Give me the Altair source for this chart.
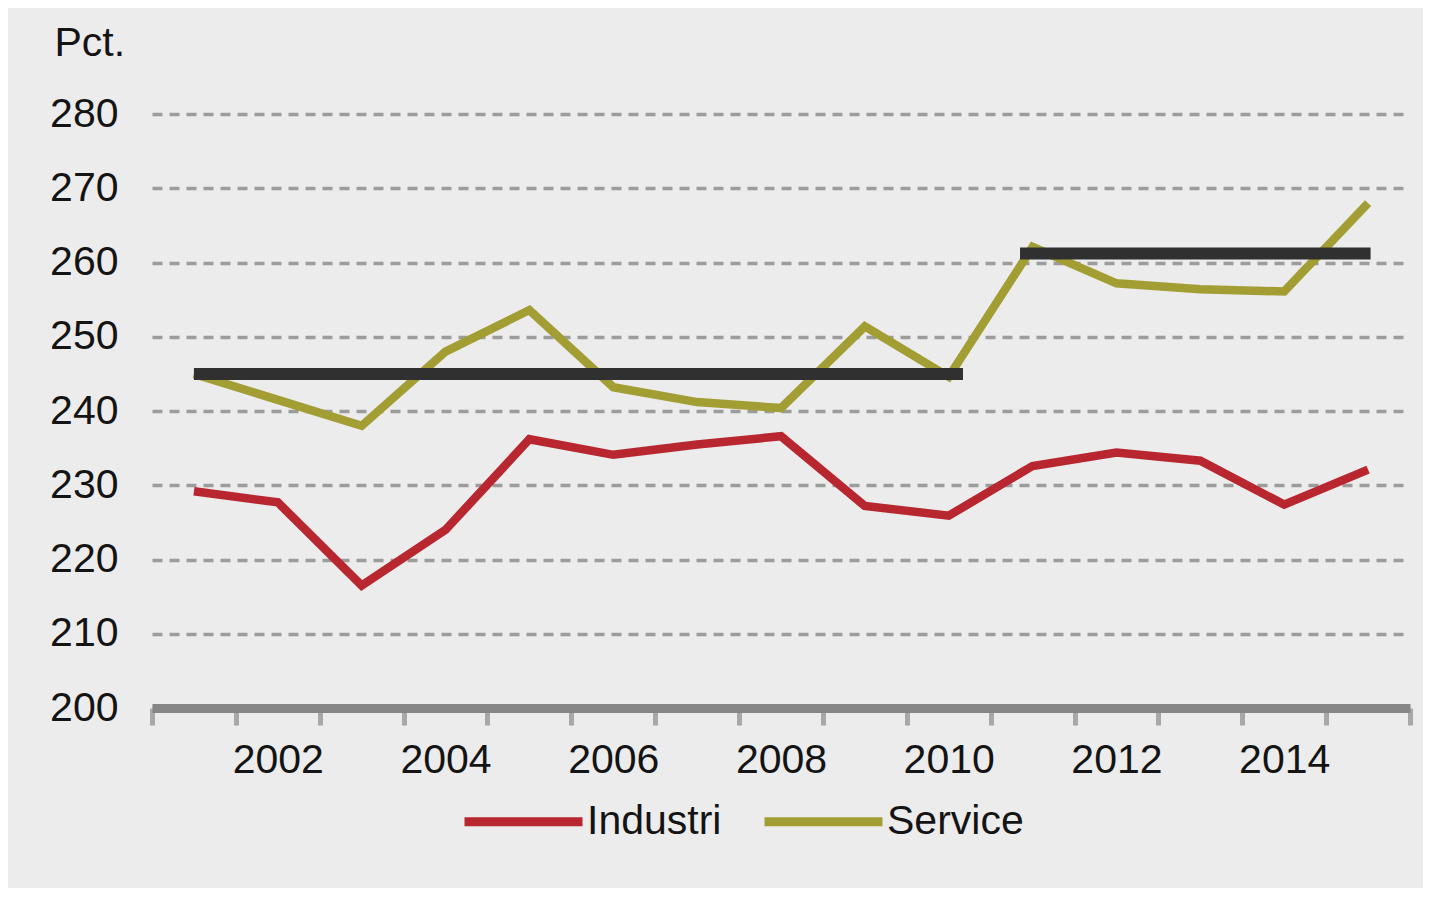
import altair as alt
import pandas as pd

# ---- data ----
years = list(range(2001, 2016))
industri = [229.2, 227.7, 216.5, 224.0, 236.2, 234.1, 235.5, 236.6, 227.2, 225.9,
            232.6, 234.4, 233.3, 227.4, 232.1]
service = [245.0, 241.5, 238.0, 248.0, 253.6, 243.2, 241.2, 240.4, 251.4, 244.6,
           262.1, 257.2, 256.4, 256.1, 268.0]
series_names = ["Industri", "Service"]
series_colors = ["#b8262f", "#a29e34"]

# period averages (black bars)
avg_start = [2001.0, 2010.85]
avg_end = [2010.17, 2015.03]
avg_value = [245.0, 261.2]

y_ticks = [200, 210, 220, 230, 240, 250, 260, 270, 280]
x_boundaries = [2000.5 + i for i in range(16)]
x_labels = [2002, 2004, 2006, 2008, 2010, 2012, 2014]

FONT = "Liberation Sans"
TXT = "#141414"

rows = []
for name, vals in zip(series_names, [industri, service]):
    for yr, v in zip(years, vals):
        rows.append({"year": yr, "series": name, "value": v})
df = pd.DataFrame(rows)
avg_df = pd.DataFrame({"start": avg_start, "end": avg_end, "value": avg_value})

x_scale = alt.Scale(domain=[2000.5, 2015.5], nice=False, zero=False)
y_scale = alt.Scale(domain=[200, 280], nice=False, zero=False)

x_axis = alt.Axis(
    values=x_boundaries + x_labels,
    labelExpr="datum.value % 2 == 0 ? '' + datum.value : ''",
    tickOpacity={"condition": {"test": "datum.value % 1 != 0", "value": 1}, "value": 0},
    tickSize=17, tickWidth=5, tickColor="#a8a8a8",
    domainColor="#868686", domainWidth=9,
    labelFontSize=41, labelFont=FONT, labelColor=TXT, labelPadding=15,
    labelOverlap=False, labelFlush=False, grid=False, title=None,
)

y_axis = alt.Axis(
    values=y_ticks, ticks=False, tickSize=0, domain=False,
    grid=True, gridColor="#9c9c9c", gridDash=[10, 7], gridWidth=3.5,
    labelFontSize=41, labelFont=FONT, labelColor=TXT, labelPadding=34,
    title="Pct.", titleAngle=0, titleX=-98, titleY=-59, titleAlign="left",
    titleBaseline="alphabetic", titleFontSize=41, titleFont=FONT,
    titleFontWeight="normal", titleColor=TXT,
)

lines = alt.Chart(df).mark_line(strokeWidth=8.5, strokeJoin="miter").encode(
    x=alt.X("year:Q", scale=x_scale, axis=x_axis),
    y=alt.Y("value:Q", scale=y_scale, axis=y_axis),
    color=alt.Color(
        "series:N",
        scale=alt.Scale(domain=series_names, range=series_colors),
        legend=alt.Legend(
            title=None, orient="none", legendX=308, legendY=644,
            direction="horizontal", symbolType="stroke", symbolSize=13924,
            symbolStrokeWidth=9, labelFontSize=41, labelFont=FONT,
            labelColor=TXT, labelOffset=0, columnPadding=24, labelLimit=400,
        ),
    ),
)

rules = alt.Chart(avg_df).mark_rule(color="#303030", strokeWidth=12).encode(
    x=alt.X("start:Q", scale=x_scale),
    x2="end:Q",
    y=alt.Y("value:Q", scale=y_scale),
)

chart = alt.layer(lines, rules).properties(
    width=1258, height=594,
    autosize=alt.AutoSizeParams(type="none"),
    padding={"left": 144, "top": 106, "right": 13, "bottom": 180},
    background="#ececec",
).configure_view(stroke=None)

chart.save("out.html", embed_options={"renderer": "svg", "actions": False})
